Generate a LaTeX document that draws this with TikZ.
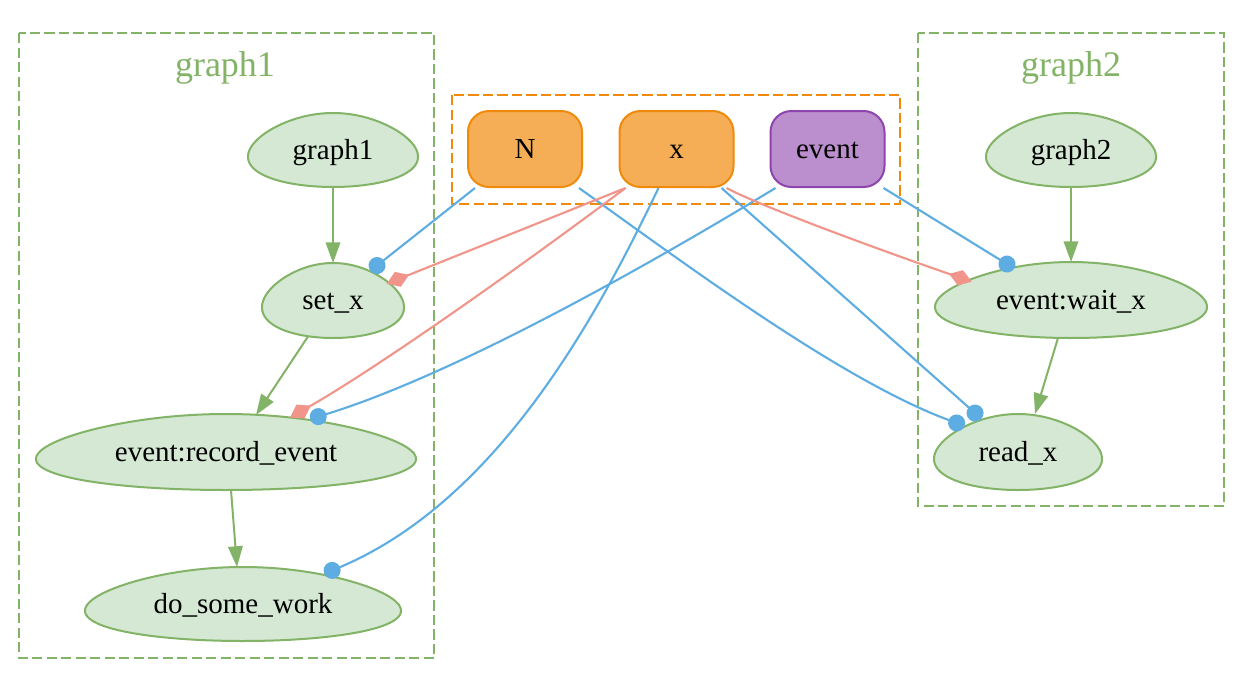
\documentclass[tikz,border=0pt]{standalone}
\usepackage{fontspec}
\setmainfont{Liberation Serif}
\usetikzlibrary{arrows.meta,calc}
\definecolor{gline}{HTML}{82B366}
\definecolor{gfill}{HTML}{D5E8D4}
\definecolor{ofill}{HTML}{F5AE55}
\definecolor{oline}{HTML}{F08A0B}
\definecolor{pfill}{HTML}{BB8FCE}
\definecolor{pline}{HTML}{8E44AD}
\definecolor{bl}{HTML}{5DADE2}
\definecolor{rd}{HTML}{F1948A}
\newcommand\ndfont{\fontsize{29}{34}\selectfont}
\newcommand\clfont{\fontsize{36}{42}\selectfont}
\newcommand\eggshape[6]{%
  \draw[eggline] plot[domain=0:360,samples=144]
    ({#2+#4/1.018*cos(\x)*(1-0.195*sin(\x))},{#3-#5*sin(\x)}) -- cycle;
  \node[eggtext] (#1) at (#2,#3) {#6};}
\tikzset{
  eggline/.style={draw=gline, fill=gfill, line width=2pt},
  eggtext/.style={inner sep=0pt, font=\ndfont, text height=22pt, text depth=4pt},
  cluster/.style={draw=gline, dash pattern=on 10.4pt off 4.1pt, line width=2pt},
  cllabel/.style={inner sep=0pt, font=\clfont, text=gline, text height=27pt, text depth=5pt},
  varbox/.style={rectangle, rounded corners=21pt, minimum width=114pt, minimum height=76pt,
    line width=2pt, font=\ndfont, text height=22pt, text depth=4pt, inner sep=0pt},
  flow/.style={draw=gline, line width=2pt, -{Triangle[length=20.7pt,width=14.5pt]}},
  dotlink/.style={draw=bl, line width=2.1pt, -{Circle[length=17pt]}},
  diamlink/.style={draw=rd, line width=2.1pt, -{Kite[length=24pt,width=16pt,inset=12pt]}},
}
\begin{document}
\begin{tikzpicture}[x=1pt,y=-1pt]
\fill[white] (0,0) rectangle (1246,675);
\useasboundingbox (0,0) rectangle (1246,675);

% clusters
\draw[cluster] (19,33) rectangle (434,658);
\node[cllabel] (lab1) at (225,65) {graph1};
\draw[cluster] (918,33) rectangle (1224,506);
\node[cllabel] (lab2) at (1071,65) {graph2};
\draw[cluster, draw=oline] (452,95) rectangle (900,204);

% variable boxes
\node[varbox, draw=oline, fill=ofill] (N) at (525,149) {N};
\node[varbox, draw=oline, fill=ofill] (X) at (676.5,149) {x};
\node[varbox, draw=pline, fill=pfill] (E) at (827.5,149) {event};

% egg nodes
\eggshape{g1}{333}{150}{85}{37}{graph1}
\eggshape{setx}{333}{300.5}{71}{37.5}{set\_x}
\eggshape{rec}{226}{452}{190}{38}{event:record\_event}
\eggshape{work}{243}{604}{158}{37}{do\_some\_work}
\eggshape{g2}{1071}{150}{85}{37}{graph2}
\eggshape{wait}{1071}{300}{136}{38}{event:wait\_x}
\eggshape{read}{1018}{452}{84}{38}{read\_x}

% control flow
\draw[flow] ($(g1)+(0,37)$) -- ($(setx)+(0,-37.5)$);
\draw[flow] ($(setx)+(-25,36)$) -- ($(rec)+(30,-37)$);
\draw[flow] ($(rec)+(5,38)$) -- ($(work)+(-6,-37)$);
\draw[flow] ($(g2)+(0,37)$) -- ($(wait)+(0,-38)$);
\draw[flow] ($(wait)+(-13,38)$) -- ($(read)+(17,-38)$);

% reads (blue)
\draw[dotlink] ([xshift=8pt]N.south west) -- ($(setx)+(37.4,-29.7)$);
\draw[dotlink] ([xshift=-4pt]N.south east) .. controls (680,260) and (840,380) .. ($(read)+(-53.4,-26.1)$);
\draw[dotlink] ([xshift=-18pt]X.south) .. controls (600,310) and (500,500) .. ($(work)+(81.3,-30.3)$);
\draw[dotlink] ([xshift=-13pt]X.south east) -- ($(read)+(-36.6,-33.3)$);
\draw[dotlink] ([xshift=6pt]E.south west) .. controls (690,240) and (470,370) .. ($(rec)+(84.1,-32.9)$);
\draw[dotlink] ([xshift=-2pt]E.south east) -- ($(wait)+(-56.8,-31.5)$);

% writes (red)
\draw[diamlink] ([xshift=7pt]X.south west) -- ($(setx)+(53.7,-16.7)$);
\draw[diamlink] ([xshift=7pt]X.south west) .. controls (500,282) and (370,372) .. ($(rec)+(64,-34.5)$);
\draw[diamlink] ([xshift=-8pt]X.south east) .. controls (760,206) and (880,250) .. ($(wait)+(-99.3,-18.3)$);
\end{tikzpicture}
\end{document}
